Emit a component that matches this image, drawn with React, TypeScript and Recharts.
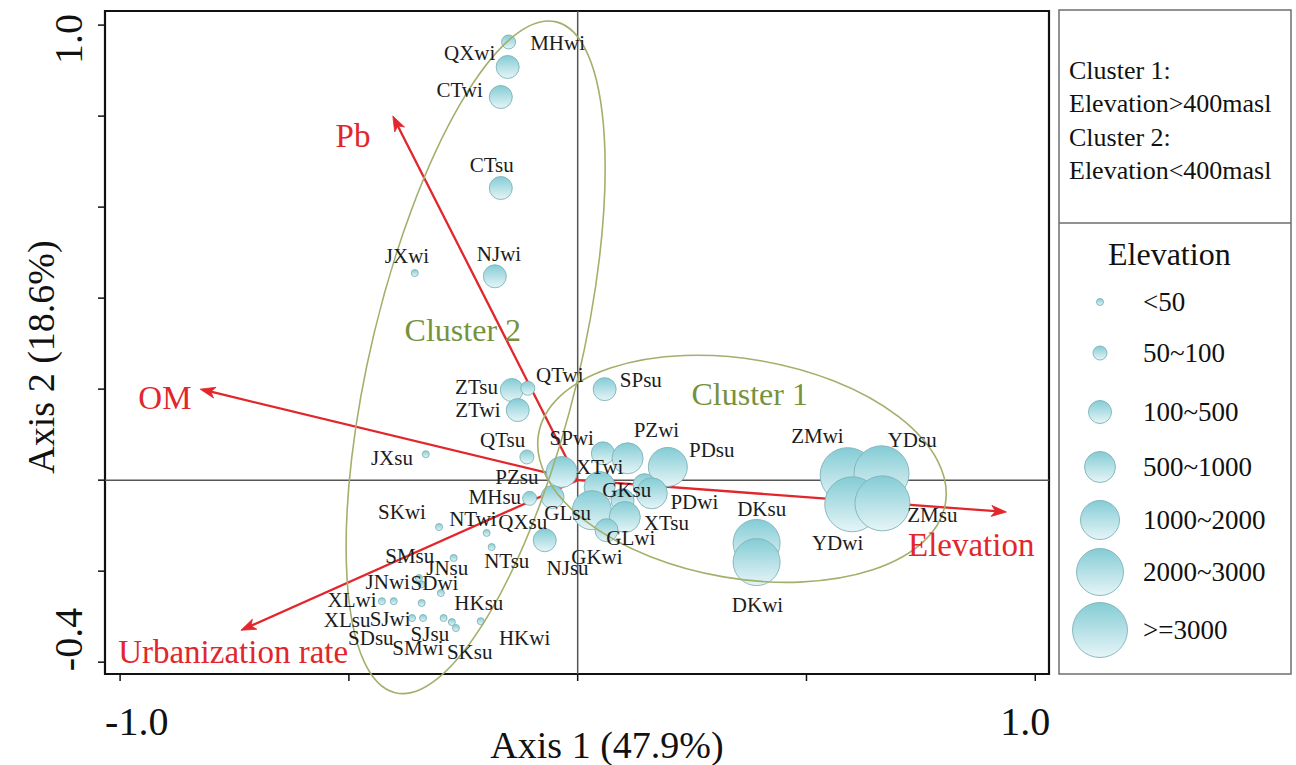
import React from 'react';
import {
  ScatterChart,
  Scatter,
  XAxis,
  YAxis,
  ReferenceLine,
  ReferenceDot,
  ReferenceArea,
} from 'recharts';

// ---------- data ----------

// Elevation classes (m a.s.l.) used for the bubble sizes
const elevationClasses = ['<50', '50~100', '100~500', '500~1000', '1000~2000', '2000~3000', '>=3000'];

// Sampling sites (su = summer, wi = winter)
const siteNames = [
  'MHwi', 'QXwi', 'CTwi', 'CTsu', 'JXwi', 'NJwi', 'ZTsu', 'QTwi', 'ZTwi', 'QTsu', 'JXsu', 'MHsu',
  'SPsu', 'SPwi', 'PZwi', 'PDsu', 'PZsu', 'XTwi', 'GKsu', 'PDwi', 'GKwi', 'GLsu', 'XTsu', 'GLwi',
  'NJsu', 'QXsu', 'ZMwi', 'YDsu', 'YDwi', 'ZMsu', 'DKsu', 'DKwi',
  'SKwi', 'NTwi', 'NTsu', 'SMsu', 'JNsu', 'JNwi', 'SDwi', 'XLwi', 'XLsu', 'HKsu', 'SJwi', 'SDsu',
  'SJsu', 'SMwi', 'SKsu', 'HKwi',
];

// Site scores on axis 1
const siteAxis1 = [
  -0.151, -0.153, -0.168, -0.168, -0.356, -0.181, -0.144, -0.109, -0.131, -0.111, -0.332, -0.105,
  0.059, 0.055, 0.109, 0.197, -0.035, 0.048, 0.146, 0.162, 0.098, 0.031, 0.103, 0.063,
  -0.072, -0.055, 0.590, 0.664, 0.600, 0.666, 0.391, 0.391,
  -0.303, -0.199, -0.188, -0.271, -0.347, -0.341, -0.299, -0.428, -0.402, -0.341, -0.362, -0.338,
  -0.293, -0.275, -0.266, -0.212,
];

// Site scores on axis 2
const siteAxis2 = [
  0.963, 0.908, 0.842, 0.642, 0.455, 0.448, 0.198, 0.202, 0.154, 0.051, 0.057, -0.040,
  0.200, 0.059, 0.048, 0.029, 0.018, -0.015, -0.011, -0.029, -0.044, -0.066, -0.081, -0.110,
  -0.132, -0.037, 0.011, 0.015, -0.053, -0.051, -0.138, -0.180,
  -0.103, -0.116, -0.147, -0.171, -0.215, -0.229, -0.248, -0.266, -0.266, -0.270, -0.303, -0.303,
  -0.303, -0.312, -0.325, -0.310,
];

// Elevation class of each site
const siteElevation = [
  '50~100', '100~500', '100~500', '100~500', '<50', '100~500', '100~500', '50~100', '100~500', '50~100', '<50', '50~100',
  '100~500', '100~500', '500~1000', '1000~2000', '500~1000', '500~1000', '100~500', '500~1000', '100~500', '1000~2000', '500~1000', '100~500',
  '100~500', '100~500', '>=3000', '>=3000', '>=3000', '>=3000', '2000~3000', '2000~3000',
  '<50', '<50', '<50', '<50', '<50', '<50', '<50', '<50', '<50', '<50', '<50', '<50',
  '<50', '<50', '<50', '<50',
];

// Where each site name is written, in axis units
const siteLabelAxis1 = [
  -0.044, -0.236, -0.258, -0.188, -0.373, -0.172, -0.221, -0.039, -0.218, -0.164, -0.406, -0.181,
  0.138, -0.013, 0.172, 0.293, -0.133, 0.048, 0.107, 0.255, 0.042, -0.022, 0.194, 0.116,
  -0.022, -0.120, 0.524, 0.731, 0.568, 0.775, 0.402, 0.393,
  -0.384, -0.229, -0.155, -0.367, -0.285, -0.415, -0.313, -0.493, -0.504, -0.216, -0.410, -0.452,
  -0.323, -0.349, -0.236, -0.116,
];
const siteLabelAxis2 = [
  0.960, 0.938, 0.857, 0.692, 0.492, 0.497, 0.204, 0.231, 0.154, 0.088, 0.048, -0.037,
  0.220, 0.092, 0.110, 0.066, 0.007, 0.029, -0.022, -0.048, -0.168, -0.073, -0.095, -0.127,
  -0.193, -0.092, 0.097, 0.088, -0.138, -0.077, -0.064, -0.275,
  -0.070, -0.086, -0.178, -0.167, -0.193, -0.224, -0.226, -0.264, -0.308, -0.270, -0.305, -0.347,
  -0.338, -0.369, -0.378, -0.347,
];

// Environmental variables (arrow tips) and their label anchors
const variableNames = ['Pb', 'OM', 'Urbanization rate', 'Elevation'];
const variableAxis1 = [-0.404, -0.825, -0.736, 0.937];
const variableAxis2 = [0.800, 0.200, -0.330, -0.070];
const variableLabelAxis1 = [-0.491, -0.902, -0.753, 0.860];
const variableLabelAxis2 = [0.756, 0.180, -0.378, -0.143];

// Clusters: outline ellipses (centre, semi-axes along axis 1 / axis 2, tilt in degrees)
const clusterNames = ['Cluster 1', 'Cluster 2'];
const clusterCentreAxis1 = [0.359, -0.223];
const clusterCentreAxis2 = [0.025, 0.270];
const clusterSemiAxis1 = [0.451, 0.228];
const clusterSemiAxis2 = [0.241, 0.758];
const clusterTilt = [9.7, 13.5];
const clusterLabelAxis1 = [0.376, -0.251];
const clusterLabelAxis2 = [0.189, 0.330];

// Axis ticks
const xTicks = [-1, -0.5, 0, 0.5, 1];
const yTicks = [-0.4, -0.2, 0, 0.2, 0.4, 0.6, 0.8, 1.0];

const legendNotes = ['Cluster 1:', 'Elevation>400masl', 'Cluster 2:', 'Elevation<400masl'];

// ---------- layout & style ----------

const FONT = '"Liberation Serif", "Times New Roman", Times, serif';
const RED = '#e2262c';
const OLIVE_TEXT = '#76923c';
const OLIVE_LINE = '#a3b06c';

const CHART_W = 1296;
const CHART_H = 765;
const MARGIN = { top: 11, right: 247, bottom: 31, left: 45 };
const Y_AXIS_W = 60;
const X_AXIS_H = 60;
const X_DOMAIN: [number, number] = [-1.033, 1.03];
const Y_DOMAIN: [number, number] = [-0.426, 1.031];
const PLOT_W = CHART_W - MARGIN.left - MARGIN.right - Y_AXIS_W;
const PLOT_H = CHART_H - MARGIN.top - MARGIN.bottom - X_AXIS_H;
const PX_PER_X = PLOT_W / (X_DOMAIN[1] - X_DOMAIN[0]);
const PX_PER_Y = PLOT_H / (Y_DOMAIN[1] - Y_DOMAIN[0]);

const CLASS_RADIUS = [3.5, 7, 11.5, 15.5, 19.5, 23.5, 27.5];
const radiusOf = (cls: string) => CLASS_RADIUS[Math.max(0, elevationClasses.indexOf(cls))];

// ---------- table rows built from the arrays ----------

const siteRows = siteNames.map((name, i) => ({
  name,
  x: siteAxis1[i],
  y: siteAxis2[i],
  cls: siteElevation[i],
}));

const siteLabelRows = siteNames.map((name, i) => ({
  name,
  x: siteLabelAxis1[i],
  y: siteLabelAxis2[i],
}));

const variableLabelRows = variableNames.map((name, i) => ({
  name,
  x: variableLabelAxis1[i],
  y: variableLabelAxis2[i],
}));

const clusterLabelRows = clusterNames.map((name, i) => ({
  name,
  x: clusterLabelAxis1[i],
  y: clusterLabelAxis2[i],
}));

// ---------- marks ----------

const Bubble = (props: any) => {
  const { cx, cy, payload } = props;
  if (cx == null || cy == null) return <g />;
  return (
    <circle
      cx={cx}
      cy={cy}
      r={radiusOf(payload.cls)}
      fill="url(#bubbleFill)"
      stroke="#7fb2b8"
      strokeWidth={0.9}
    />
  );
};

const SiteLabel = (props: any) => {
  const { cx, cy, payload } = props;
  if (cx == null || cy == null) return <g />;
  return (
    <text
      x={cx}
      y={cy}
      textAnchor="middle"
      dominantBaseline="central"
      fontFamily={FONT}
      fontSize={21}
      fill="#1c1c1c"
    >
      {payload.name}
    </text>
  );
};

const VariableLabel = (props: any) => {
  const { cx, cy, payload } = props;
  if (cx == null || cy == null) return <g />;
  return (
    <text
      x={cx}
      y={cy}
      textAnchor="middle"
      dominantBaseline="central"
      fontFamily={FONT}
      fontSize={33}
      fill={RED}
    >
      {payload.name}
    </text>
  );
};

const ClusterLabel = (props: any) => {
  const { cx, cy, payload } = props;
  if (cx == null || cy == null) return <g />;
  return (
    <text
      x={cx}
      y={cy}
      textAnchor="middle"
      dominantBaseline="central"
      fontFamily={FONT}
      fontSize={32}
      fill={OLIVE_TEXT}
    >
      {payload.name}
    </text>
  );
};

const Arrow = (props: any) => {
  const { x1, y1, x2, y2 } = props;
  if ([x1, y1, x2, y2].some((v) => v == null || Number.isNaN(v))) return <g />;
  const ang = Math.atan2(y2 - y1, x2 - x1);
  const len = 15;
  const half = 5.5;
  const notch = 11;
  const ux = Math.cos(ang);
  const uy = Math.sin(ang);
  const bx = x2 - ux * len;
  const by = y2 - uy * len;
  const nx = x2 - ux * notch;
  const ny = y2 - uy * notch;
  const pts = [
    [x2, y2],
    [bx - uy * half, by + ux * half],
    [nx, ny],
    [bx + uy * half, by - ux * half],
  ]
    .map((p) => p.join(','))
    .join(' ');
  return (
    <g>
      <line x1={x1} y1={y1} x2={nx} y2={ny} stroke={RED} strokeWidth={2.3} />
      <polygon points={pts} fill={RED} stroke={RED} strokeWidth={0.8} />
    </g>
  );
};

const clusterEllipse = (i: number) => (props: any) => {
  const { cx, cy } = props;
  if (cx == null || cy == null) return <g />;
  return (
    <ellipse
      cx={cx}
      cy={cy}
      rx={clusterSemiAxis1[i] * PX_PER_X}
      ry={clusterSemiAxis2[i] * PX_PER_Y}
      transform={`rotate(${clusterTilt[i]}, ${cx}, ${cy})`}
      fill="none"
      stroke={OLIVE_LINE}
      strokeWidth={1.6}
    />
  );
};

const near = (a: number, b: number) => Math.abs(a - b) < 1e-9;

const XTick = (props: any) => {
  const { x, y, payload } = props;
  const v = payload.value;
  const common = { fontFamily: FONT, fontSize: 40, fill: '#111' };
  if (near(v, -1)) {
    return (
      <text x={x - 15} y={y + 52} textAnchor="start" {...common}>
        -1.0
      </text>
    );
  }
  if (near(v, 1)) {
    return (
      <text x={x + 15} y={y + 52} textAnchor="end" {...common}>
        1.0
      </text>
    );
  }
  return <g />;
};

const YTick = (props: any) => {
  const { x, y, payload } = props;
  const v = payload.value;
  const bx = x - 14;
  const common = { fontFamily: FONT, fontSize: 40, fill: '#111' };
  if (near(v, 1)) {
    const ay = y - 11;
    return (
      <text x={bx} y={ay} textAnchor="end" transform={`rotate(-90, ${bx}, ${ay})`} {...common}>
        1.0
      </text>
    );
  }
  if (near(v, -0.4)) {
    const ay = y + 9;
    return (
      <text x={bx} y={ay} textAnchor="start" transform={`rotate(-90, ${bx}, ${ay})`} {...common}>
        -0.4
      </text>
    );
  }
  return <g />;
};

// ---------- legend and axis titles ----------

const Overlay = () => {
  const legendX = 1059;
  const legendRight = 1291;
  const rowY = [302, 353, 412, 467, 520, 572, 630];
  return (
    <svg
      width={CHART_W}
      height={CHART_H}
      style={{ position: 'absolute', left: 0, top: 0, pointerEvents: 'none' }}
    >
      <defs>
        <linearGradient id="legendFill" x1="0" y1="0" x2="0" y2="1">
          <stop offset="0%" stopColor="#84ccd5" />
          <stop offset="100%" stopColor="#e6f5f7" />
        </linearGradient>
      </defs>
      <text x={607} y={758} textAnchor="middle" fontFamily={FONT} fontSize={38} fill="#111">
        Axis 1 (47.9%)
      </text>
      <text
        x={54}
        y={357}
        textAnchor="middle"
        transform="rotate(-90, 54, 357)"
        fontFamily={FONT}
        fontSize={38}
        fill="#111"
      >
        Axis 2 (18.6%)
      </text>

      <rect
        x={legendX}
        y={10}
        width={legendRight - legendX}
        height={664}
        fill="#fff"
        stroke="#6e6e6e"
        strokeWidth={1.5}
      />
      <line x1={legendX} x2={legendRight} y1={223} y2={223} stroke="#6e6e6e" strokeWidth={1.5} />
      {legendNotes.map((t, i) => (
        <text key={t} x={1069} y={79 + i * 33.3} fontFamily={FONT} fontSize={26} fill="#111">
          {t}
        </text>
      ))}
      <text x={1108} y={265} fontFamily={FONT} fontSize={32} fill="#111">
        Elevation
      </text>
      {elevationClasses.map((c, i) => (
        <g key={c}>
          <circle
            cx={1100}
            cy={rowY[i]}
            r={CLASS_RADIUS[i]}
            fill="url(#legendFill)"
            stroke="#7fb2b8"
            strokeWidth={0.9}
          />
          <text
            x={1143}
            y={rowY[i]}
            dominantBaseline="central"
            fontFamily={FONT}
            fontSize={27}
            fill="#111"
          >
            {c}
          </text>
        </g>
      ))}
    </svg>
  );
};

export default function App() {
  return (
    <div
      style={{
        position: 'absolute',
        left: 0,
        top: 0,
        width: CHART_W,
        height: CHART_H,
        background: '#fff',
      }}
    >
      <ScatterChart width={CHART_W} height={CHART_H} margin={MARGIN}>
        <defs>
          <linearGradient id="bubbleFill" x1="0" y1="0" x2="0" y2="1">
            <stop offset="0%" stopColor="#84ccd5" />
            <stop offset="100%" stopColor="#e6f5f7" />
          </linearGradient>
        </defs>
        <XAxis
          type="number"
          dataKey="x"
          domain={X_DOMAIN}
          ticks={xTicks}
          allowDataOverflow
          height={X_AXIS_H}
          axisLine={false}
          tickLine={{ stroke: '#111', strokeWidth: 1.5 }}
          tickSize={7}
          tick={<XTick />}
          interval={0}
        />
        <YAxis
          type="number"
          dataKey="y"
          domain={Y_DOMAIN}
          ticks={yTicks}
          allowDataOverflow
          width={Y_AXIS_W}
          axisLine={false}
          tickLine={{ stroke: '#111', strokeWidth: 1.5 }}
          tickSize={7}
          tick={<YTick />}
          interval={0}
        />

        <Scatter data={siteRows} shape={<Bubble />} isAnimationActive={false} />

        <ReferenceLine x={0} stroke="#555" strokeWidth={1.5} />
        <ReferenceLine y={0} stroke="#555" strokeWidth={1.5} />

        {clusterNames.map((n, i) => (
          <ReferenceDot
            key={n}
            x={clusterCentreAxis1[i]}
            y={clusterCentreAxis2[i]}
            r={1}
            ifOverflow="visible"
            shape={clusterEllipse(i)}
          />
        ))}

        {variableNames.map((n, i) => (
          <ReferenceLine
            key={n}
            segment={[
              { x: 0, y: 0 },
              { x: variableAxis1[i], y: variableAxis2[i] },
            ]}
            ifOverflow="visible"
            shape={<Arrow />}
          />
        ))}

        <ReferenceArea
          x1={X_DOMAIN[0]}
          x2={X_DOMAIN[1]}
          y1={Y_DOMAIN[0]}
          y2={Y_DOMAIN[1]}
          fill="none"
          fillOpacity={0}
          stroke="#111"
          strokeWidth={2.2}
          ifOverflow="visible"
        />

        <Scatter data={clusterLabelRows} shape={<ClusterLabel />} isAnimationActive={false} />
        <Scatter data={variableLabelRows} shape={<VariableLabel />} isAnimationActive={false} />
        <Scatter data={siteLabelRows} shape={<SiteLabel />} isAnimationActive={false} />
      </ScatterChart>
      <Overlay />
    </div>
  );
}
